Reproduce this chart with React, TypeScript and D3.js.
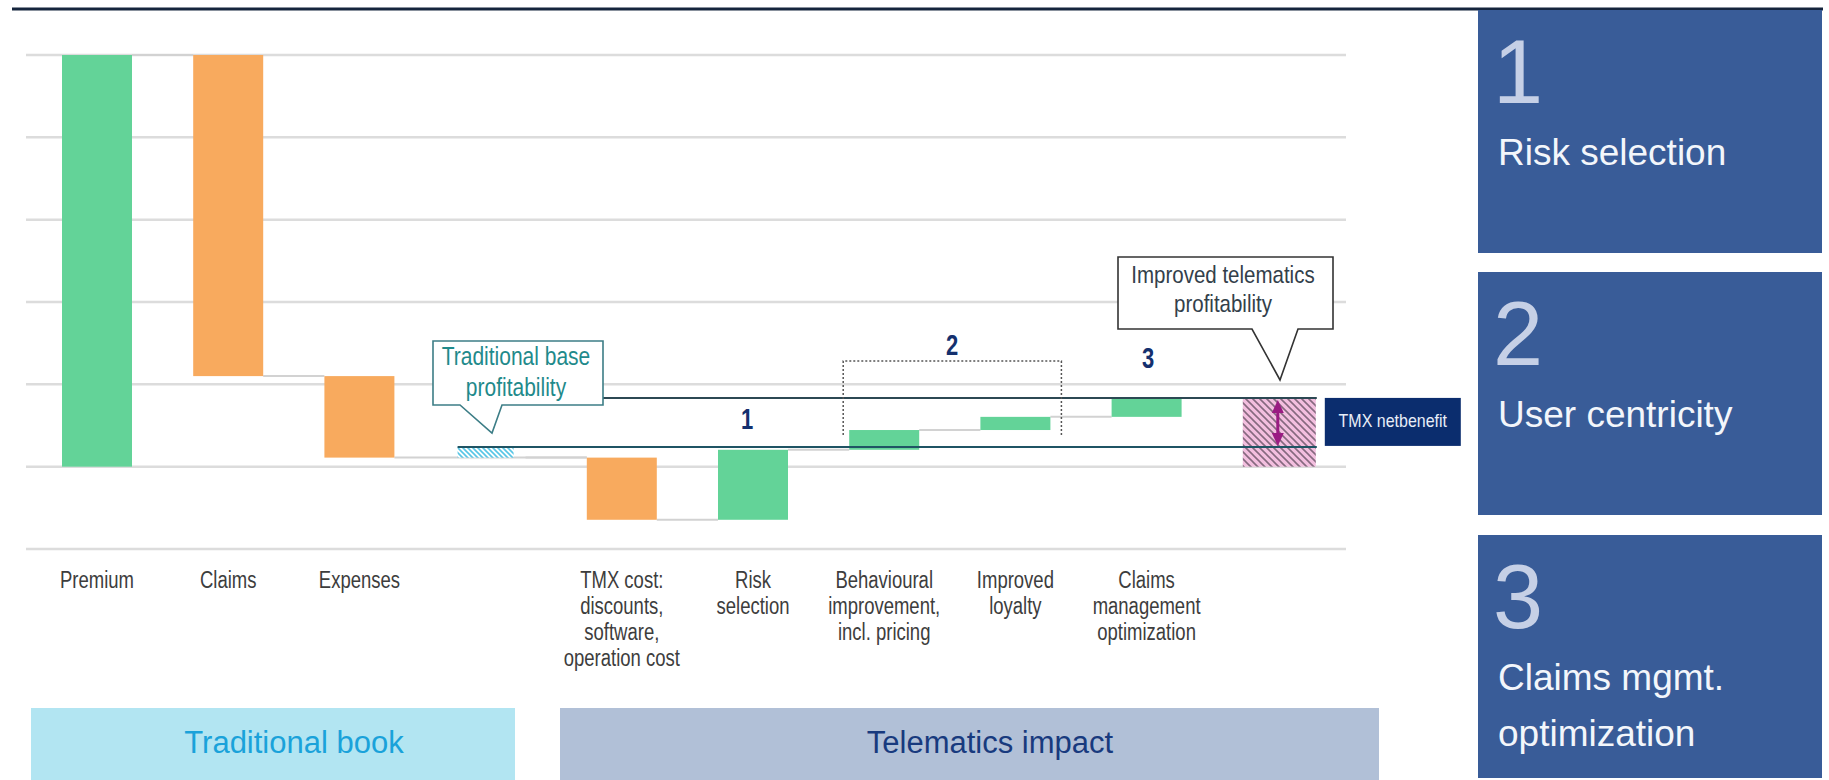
import React from 'react';
import * as d3 from 'd3';

// ---------- data ----------
const categories = ['Premium', 'Claims', 'Expenses', 'Base', 'TMX cost', 'Risk selection', 'Behavioural', 'Improved loyalty', 'Claims mgmt', 'TMX net'];
const categoryLabels: string[][] = [
  ['Premium'],
  ['Claims'],
  ['Expenses'],
  [],
  ['TMX cost:', 'discounts,', 'software,', 'operation cost'],
  ['Risk', 'selection'],
  ['Behavioural', 'improvement,', 'incl. pricing'],
  ['Improved', 'loyalty'],
  ['Claims', 'management', 'optimization'],
  [],
];
// step kind per category: total = bar from 0, delta = floating step, base = hatched base profit, net = hatched net benefit
const stepKinds = ['total', 'delta', 'delta', 'base', 'delta', 'delta', 'delta', 'delta', 'delta', 'net'];
const stepValues = [5.0, -3.9, -0.99, 0, -0.755, 0.85, 0.24, 0.16, 0.23, 0];
const traditionalLevel = 0.24; // reference line "traditional base profitability"
const gridTicks = [-1, 0, 1, 2, 3, 4, 5];
const groupNumbers = ['1', '2', '3'];
const panelNumbers = ['1', '2', '3'];
const panelTitles: string[][] = [['Risk selection'], ['User centricity'], ['Claims mgmt.', 'optimization']];
const sectionTitles = ['Traditional book', 'Telematics impact'];

// ---------- style ----------
const FONT = "'Liberation Sans', Arial, Helvetica, sans-serif";
const GREEN = '#63d398';
const ORANGE = '#f8aa5e';

export default function App() {
  const x = d3.scaleBand<string>().domain(categories).range([62, 1312.8]).paddingInner(0.4665).paddingOuter(0);
  const bw = x.bandwidth();
  const y = d3.scaleLinear().domain([-1, 5]).range([549, 55]);

  // compute waterfall
  let running = 0;
  const bars: { cat: string; kind: string; y0: number; y1: number; positive: boolean }[] = [];
  categories.forEach((c, i) => {
    const k = stepKinds[i];
    const v = stepValues[i];
    if (k === 'total') {
      bars.push({ cat: c, kind: k, y0: 0, y1: v, positive: true });
      running = v;
    } else if (k === 'delta') {
      bars.push({ cat: c, kind: k, y0: running, y1: running + v, positive: v >= 0 });
      running += v;
    } else if (k === 'base') {
      bars.push({ cat: c, kind: k, y0: running, y1: traditionalLevel, positive: true });
    } else {
      bars.push({ cat: c, kind: k, y0: 0, y1: running, positive: true });
    }
  });
  const netTotal = running;

  // connectors between consecutive bars at the running level
  const connectors: { x1: number; x2: number; v: number }[] = [];
  let lvl = 0;
  categories.forEach((c, i) => {
    const k = stepKinds[i];
    if (k === 'total') lvl = stepValues[i];
    else if (k === 'delta') lvl += stepValues[i];
    if (i < categories.length - 2) {
      connectors.push({ x1: (x(c) as number) + bw, x2: x(categories[i + 1]) as number, v: lvl });
    }
  });
  const baseIdx = stepKinds.indexOf('base');

  const netX = x('TMX net') as number;
  const baseX = x('Base') as number;
  const lineEnd = netX + bw + 4;

  const behavX = x('Behavioural') as number;
  const loyX = x('Improved loyalty') as number;

  const labelFill = '#3d3d3d';

  const panelX = 1478;
  const panelW = 344;
  const panelTops = [10, 272, 535];
  const panelH = 243;

  return (
    <svg width={1829} height={780} style={{ position: 'absolute', left: 0, top: 0, display: 'block' }} fontFamily={FONT}>
      <defs>
        <pattern id="cyanHatch" patternUnits="userSpaceOnUse" width={5} height={5}>
          <rect width={5} height={5} fill="#ffffff" />
          <path d="M-1,4 l2,2 M0,0 l5,5 M4,-1 l2,2" stroke="#58c6e6" strokeWidth={1.6} />
        </pattern>
        <pattern id="pinkHatch" patternUnits="userSpaceOnUse" width={7} height={7}>
          <rect width={7} height={7} fill="#f3bfdf" />
          <path d="M-1,6 l2,2 M0,0 l7,7 M6,-1 l2,2" stroke="#86697f" strokeWidth={1.6} />
        </pattern>
      </defs>
      <rect width={1829} height={780} fill="#ffffff" />

      {/* top rule */}
      <line x1={12} x2={1823} y1={9} y2={9} stroke="#15253d" strokeWidth={3} />

      {/* gridlines */}
      {gridTicks.map((t) => (
        <line key={t} x1={26} x2={1346} y1={y(t)} y2={y(t)} stroke="#dcdcdc" strokeWidth={2.5} />
      ))}

      {/* connectors */}
      {connectors.map((c, i) => (
        <line key={i} x1={c.x1} x2={i === baseIdx - 1 ? (x('TMX cost') as number) : c.x2} y1={y(c.v)} y2={y(c.v)} stroke="#d2d2d2" strokeWidth={2} />
      ))}

      {/* bars */}
      {bars.map((b) => {
        const bx = x(b.cat) as number;
        const top = y(Math.max(b.y0, b.y1));
        const bot = y(Math.min(b.y0, b.y1));
        if (b.kind === 'base') {
          return <rect key={b.cat} x={bx + 2} y={top} width={bw * 0.8} height={bot - top} fill="url(#cyanHatch)" />;
        }
        if (b.kind === 'net') {
          return <rect key={b.cat} x={bx} y={top} width={bw + 3} height={bot - top} fill="url(#pinkHatch)" />;
        }
        const fill = b.kind === 'total' || b.positive ? GREEN : ORANGE;
        return <rect key={b.cat} x={bx} y={top} width={bw} height={bot - top} fill={fill} />;
      })}

      {/* reference lines */}
      <line x1={603} x2={lineEnd} y1={y(netTotal)} y2={y(netTotal)} stroke="#2c4853" strokeWidth={2} />
      <line x1={baseX + 2} x2={lineEnd} y1={y(traditionalLevel)} y2={y(traditionalLevel)} stroke="#1f5464" strokeWidth={2} />

      {/* dotted bracket for group 2 */}
      <path
        d={`M${behavX - 6},${y(traditionalLevel) - 12} V361 H${loyX + bw + 11} V${y(traditionalLevel) - 12}`}
        fill="none"
        stroke="#555"
        strokeWidth={1.5}
        strokeDasharray="2,2"
      />

      {/* callout: traditional base profitability */}
      <path d="M433,341 H603 V405 H502 L492,433 L460,405 H433 Z" fill="#ffffff" stroke="#3c7d86" strokeWidth={1.6} />
      {['Traditional base', 'profitability'].map((t, i) => (
        <text key={t} transform={`translate(516,${365 + i * 31}) scale(1,1.2)`} textAnchor="middle" fontSize={21} fill="#1f8a8b">
          {t}
        </text>
      ))}

      {/* callout: improved telematics profitability */}
      <path d="M1118,257 H1333 V329 H1298 L1280,380 L1252,329 H1118 Z" fill="#ffffff" stroke="#333" strokeWidth={1.6} />
      {['Improved telematics', 'profitability'].map((t, i) => (
        <text key={t} transform={`translate(1223,${283 + i * 29}) scale(1,1.15)`} textAnchor="middle" fontSize={20.5} fill="#33404a">
          {t}
        </text>
      ))}

      {/* group numbers */}
      {groupNumbers.map((n, i) => {
        const pos = [
          [747, 429],
          [952, 355],
          [1148, 368],
        ][i];
        return (
          <text key={n} transform={`translate(${pos[0]},${pos[1]}) scale(1,1.3)`} textAnchor="middle" fontSize={22} fontWeight="bold" fill="#14306e">
            {n}
          </text>
        );
      })}

      {/* double arrow */}
      {(() => {
        const ax = netX + bw / 2;
        const yt = y(netTotal) + 2;
        const yb = y(traditionalLevel) - 1;
        return (
          <g fill="#9a1b82" stroke="none">
            <rect x={ax - 1.5} y={yt + 8} width={3} height={yb - yt - 16} />
            <path d={`M${ax},${yt} L${ax - 6},${yt + 13} L${ax + 6},${yt + 13} Z`} />
            <path d={`M${ax},${yb} L${ax - 6},${yb - 13} L${ax + 6},${yb - 13} Z`} />
          </g>
        );
      })()}

      {/* TMX net benefit box */}
      <rect x={netX + bw + 12} y={y(netTotal)} width={136} height={y(traditionalLevel) - y(netTotal) - 1} fill="#0b2d6e" />
      <text
        transform={`translate(${netX + bw + 12 + 68},427) scale(1,1.15)`}
        textAnchor="middle"
        fontSize={16}
        fill="#e8eef8"
      >
        TMX netbenefit
      </text>

      {/* category labels */}
      {categories.map((c, i) =>
        categoryLabels[i].map((line, j) => (
          <text
            key={c + j}
            transform={`translate(${(x(c) as number) + bw / 2},${588 + j * 26}) scale(1,1.3)`}
            textAnchor="middle"
            fontSize={18.5}
            fill={labelFill}
          >
            {line}
          </text>
        ))
      )}

      {/* bottom section boxes */}
      <rect x={31} y={708} width={484} height={72} fill="#b2e5f2" />
      <text x={31 + 242 + 21} y={753} textAnchor="middle" fontSize={31} fill="#1aa2da">
        {sectionTitles[0]}
      </text>
      <rect x={560} y={708} width={819} height={72} fill="#b1c0d7" />
      <text x={560 + 409 + 21} y={753} textAnchor="middle" fontSize={31} fill="#183a7e">
        {sectionTitles[1]}
      </text>

      {/* right panels */}
      {panelTops.map((t, i) => (
        <g key={i}>
          <rect x={panelX} y={t} width={panelW} height={panelH} fill="#395c98" />
          <text x={1493} y={t + 93} fontSize={90} fill="#c6d0e6">
            {panelNumbers[i]}
          </text>
          {panelTitles[i].map((line, j) => (
            <text key={line} x={1498} y={t + 155 + j * 56} fontSize={37} fill="#f3f6fb">
              {line}
            </text>
          ))}
        </g>
      ))}
    </svg>
  );
}
